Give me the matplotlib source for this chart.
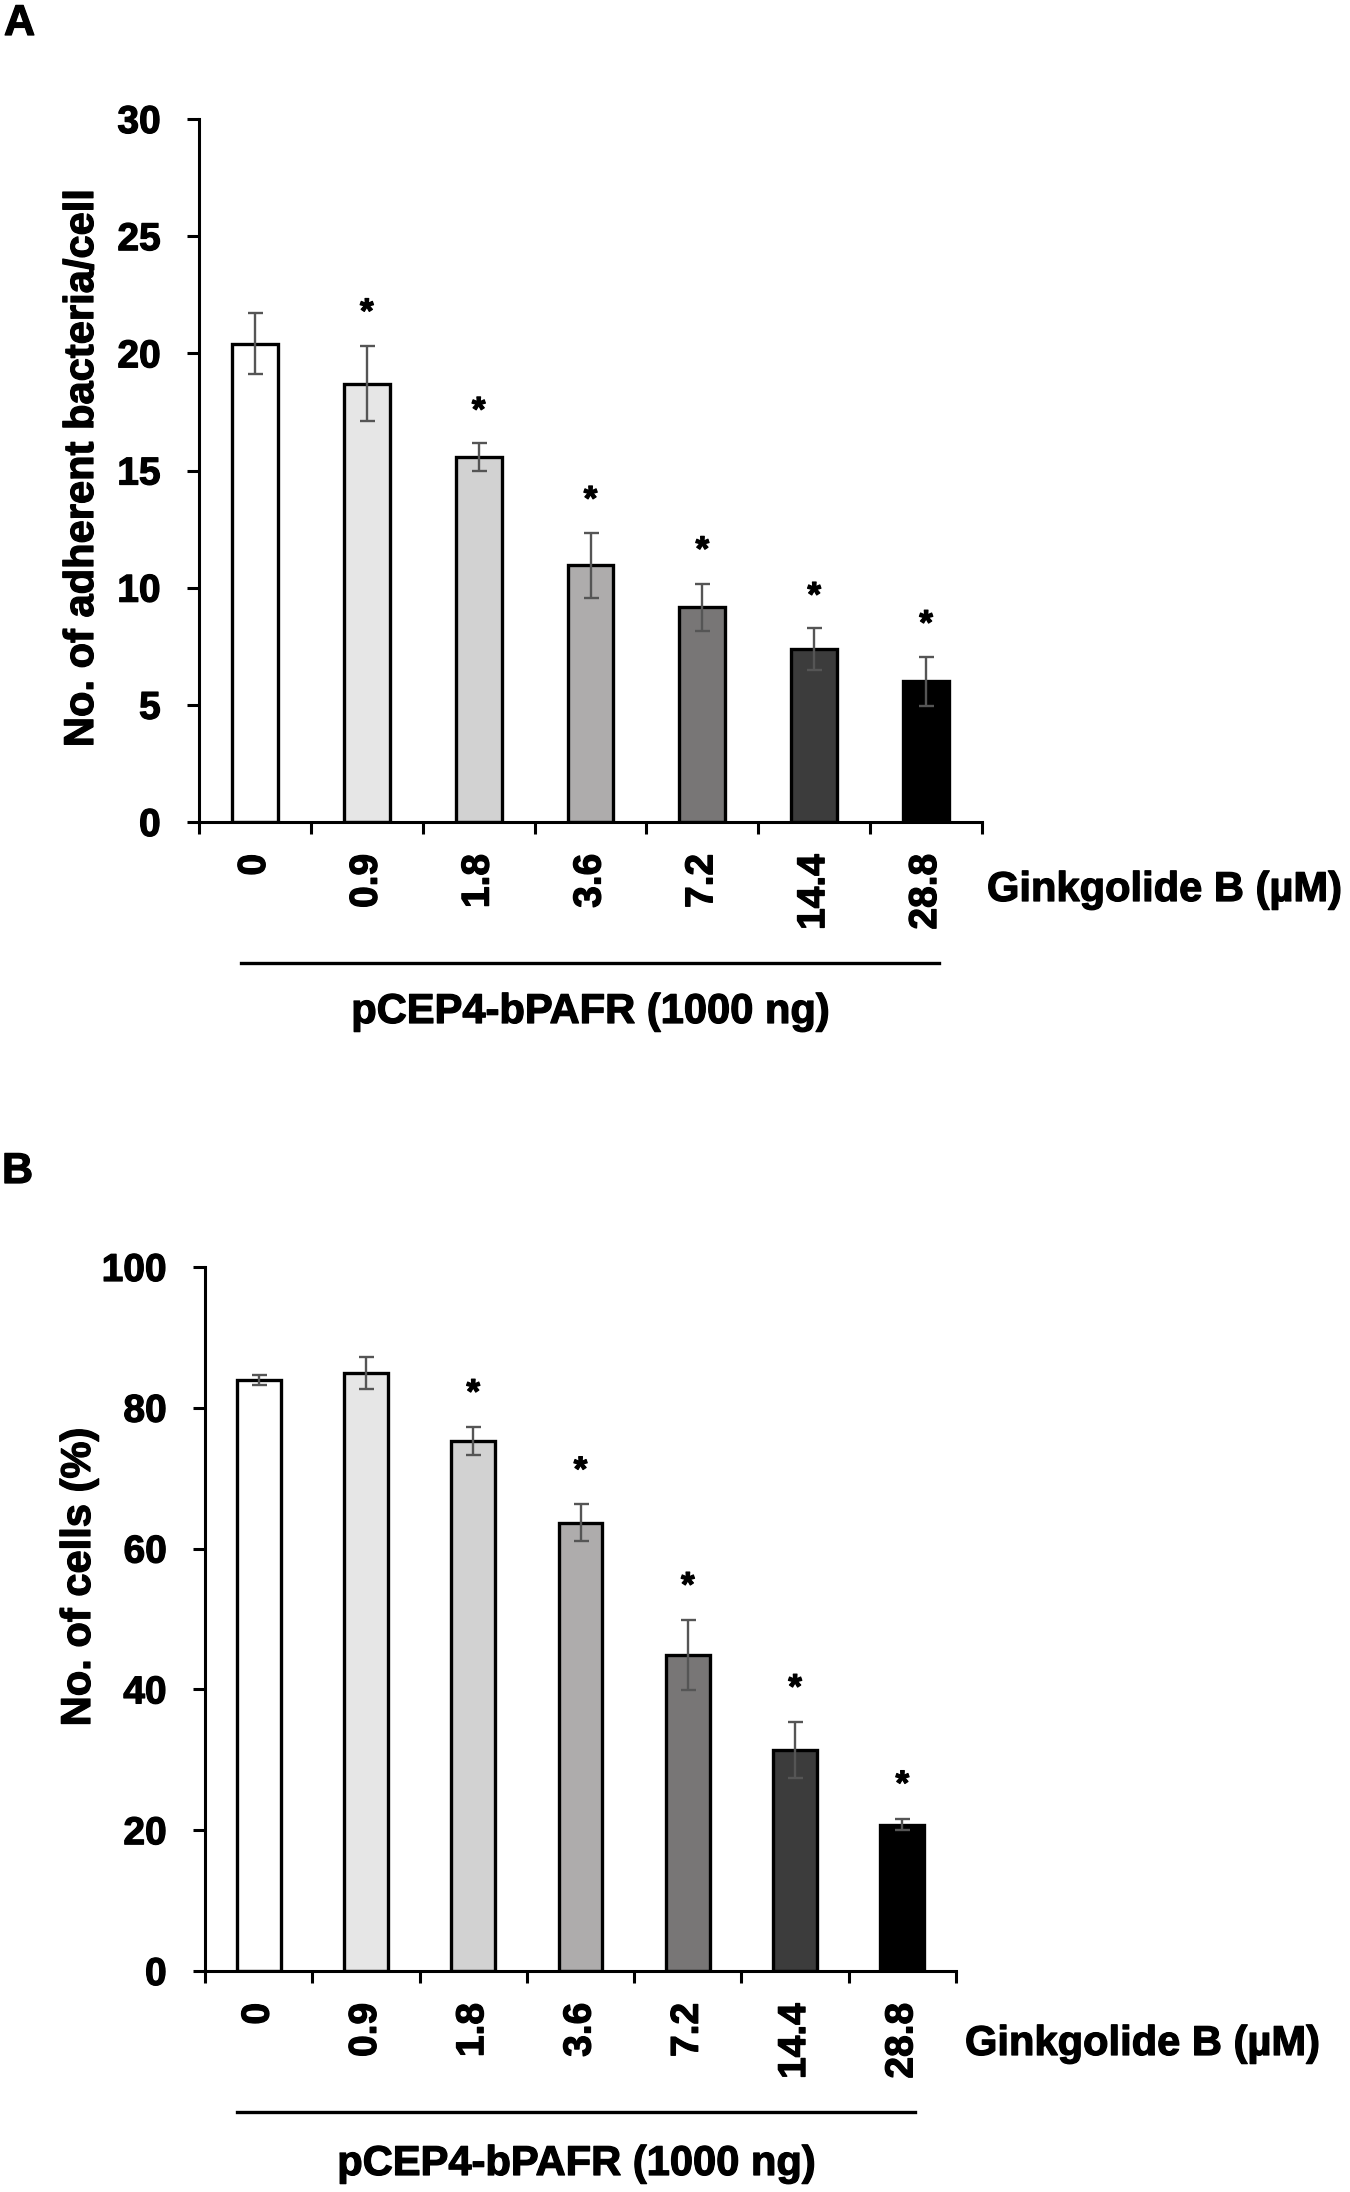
import numpy as np
import matplotlib
matplotlib.use("Agg")
import matplotlib.pyplot as plt
import matplotlib.patheffects as pe
from matplotlib.ticker import FixedLocator

plt.rcParams['font.family'] = ['Liberation Sans', 'DejaVu Sans']
plt.rcParams['font.weight'] = 'bold'

doses = ['0', '0.9', '1.8', '3.6', '7.2', '14.4', '28.8']
bar_colors = ['#ffffff', '#e6e6e6', '#d2d2d2', '#aeacac', '#787676', '#3c3c3c', '#000000']

# panel A: adherent bacteria per cell
adh_mean = [20.4, 18.7, 15.57, 10.95, 9.17, 7.37, 6.0]
adh_err = [1.3, 1.6, 0.6, 1.4, 1.0, 0.9, 1.05]
adh_star = [np.nan, 22.2, 18.0, 14.2, 12.05, 10.1, 8.9]

# panel B: no. of cells (%)
cell_mean = [83.9, 84.9, 75.3, 63.7, 44.9, 31.4, 20.8]
cell_err = [0.7, 2.3, 2.0, 2.6, 5.0, 4.0, 0.8]
cell_star = [np.nan, np.nan, 83.6, 72.6, 56.2, 41.7, 28.0]

W, H = 1350, 2192
fig = plt.figure(figsize=(W / 100, H / 100), dpi=100)

# a thin outline makes the glyphs look as heavy as in the scanned figure
heavy = [pe.withStroke(linewidth=0.9, foreground='black')]


def fx(px):
    return px / W


def fy(py):
    return 1 - py / H


def draw_panel(rect, means, errs, stars, ymax, ystep, ylabel, ylab_xy, gink_xy):
    ax = fig.add_axes(rect)
    x = np.arange(len(doses))
    ax.bar(x, means, width=0.41, color=bar_colors, edgecolor='black',
           linewidth=2.4, zorder=2)
    ax.errorbar(x, means, yerr=errs, fmt='none', ecolor='#555555',
                elinewidth=1.7, capsize=5.4, capthick=1.7, zorder=3)
    for xi, sy in zip(x, stars):
        if not np.isnan(sy):
            ax.annotate('*', (xi, sy), xytext=(0, -8), textcoords='offset points',
                        ha='center', va='center', fontsize=25, fontweight='bold',
                        path_effects=heavy)

    ax.set_xlim(-0.5, len(doses) - 0.5)
    ax.set_ylim(0, ymax)
    ax.set_yticks(np.arange(0, ymax + 1, ystep))
    ax.tick_params(axis='y', length=8.6, width=2.2, pad=19, labelsize=28)
    ax.set_xticks(x)
    ax.set_xticklabels(doses, rotation=90, fontsize=28)
    ax.tick_params(axis='x', which='major', length=0, pad=23)
    ax.xaxis.set_minor_locator(FixedLocator(np.arange(-0.5, len(doses), 1.0)))
    ax.tick_params(axis='x', which='minor', length=8.6, width=2.2, direction='out')
    for lab in ax.get_xticklabels() + ax.get_yticklabels():
        lab.set_path_effects(heavy)
    for side in ['top', 'right']:
        ax.spines[side].set_visible(False)
    for side in ['left', 'bottom']:
        ax.spines[side].set_linewidth(2.2)

    fig.text(fx(ylab_xy[0]), fy(ylab_xy[1]), ylabel, rotation=90,
             ha='center', va='center', fontsize=30, fontweight='bold',
             path_effects=heavy)
    fig.text(fx(gink_xy[0]), fy(gink_xy[1]), 'Ginkgolide B (µM)',
             ha='left', va='center', fontsize=30, fontweight='bold',
             path_effects=heavy)
    return ax


axA = draw_panel([fx(199), fy(822), fx(982) - fx(199), fy(119) - fy(822)],
                 adh_mean, adh_err, adh_star, 30, 5,
                 'No. of adherent bacteria/cell', (82, 468), (987, 890))
axB = draw_panel([fx(205), fy(1971), fx(956) - fx(205), fy(1267) - fy(1971)],
                 cell_mean, cell_err, cell_star, 100, 20,
                 'No. of cells (%)', (79, 1577), (965, 2044))

# bracket lines under the dose labels
fig.add_artist(plt.Line2D([fx(241), fx(939)], [fy(963), fy(963)], color='black', lw=2.4))
fig.add_artist(plt.Line2D([fx(237), fx(915)], [fy(2112), fy(2112)], color='black', lw=2.4))
fig.text(fx(590), fy(1012), 'pCEP4-bPAFR (1000 ng)', ha='center', va='center',
         fontsize=30, fontweight='bold', path_effects=heavy)
fig.text(fx(576), fy(2164), 'pCEP4-bPAFR (1000 ng)', ha='center', va='center',
         fontsize=30, fontweight='bold', path_effects=heavy)

fig.text(fx(4), fy(24), 'A', ha='left', va='center', fontsize=31, fontweight='bold',
         path_effects=heavy)
fig.text(fx(2), fy(1172), 'B', ha='left', va='center', fontsize=31, fontweight='bold',
         path_effects=heavy)

fig.savefig('out.png', dpi=100, facecolor='white')
